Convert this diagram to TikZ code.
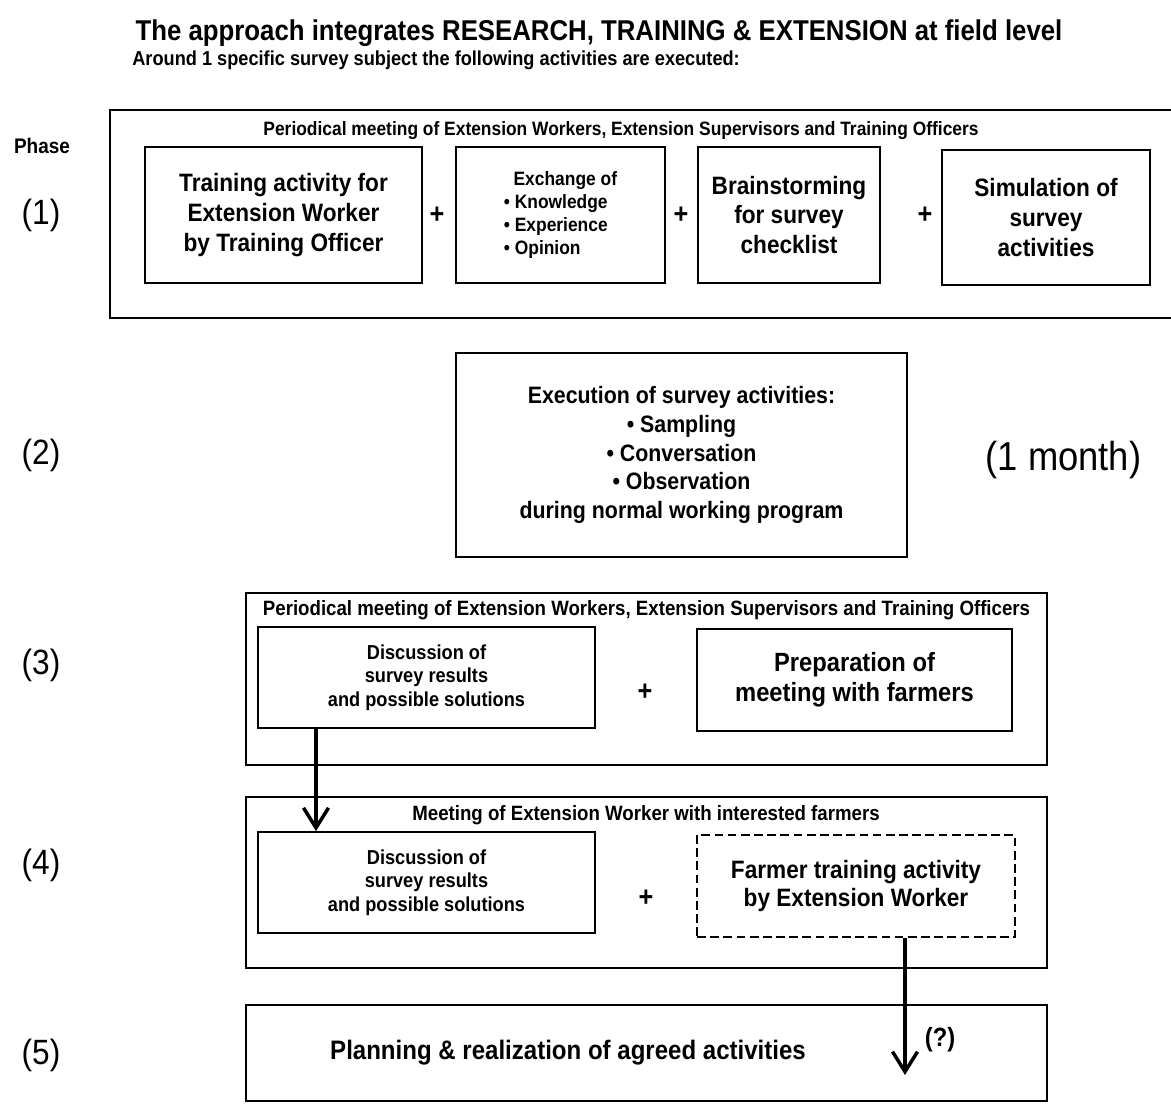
\documentclass[tikz,border=0pt]{standalone}
\usepackage{fontspec}
\setmainfont{Liberation Sans}[FakeStretch=0.9]
\usetikzlibrary{arrows.meta}

\tikzset{
  box/.style={draw,line width=1pt,align=center,inner sep=0pt},
  frame/.style={draw,line width=1pt,inner sep=0pt},
  hdr/.style={inner sep=0pt,font=\fontsize{11}{13}\selectfont\bfseries},
  big/.style={font=\fontsize{14.3}{17}\selectfont\bfseries},
  small/.style={font=\fontsize{11.5}{13.3}\selectfont\bfseries},
  plus/.style={font=\fontsize{16}{16}\selectfont\bfseries},
  phase/.style={font=\fontsize{20}{24}\selectfont},
  arr/.style={line width=1.8pt,-{Straight Barb[length=4mm,width=5mm,line width=2pt]}}
}

\begin{document}
\begin{tikzpicture}
\clip (0,0) rectangle (23.42,-22.08);
% heading
\node[font=\fontsize{16.3}{19}\selectfont\bfseries] (title) at (11.98,-0.66) {The approach integrates RESEARCH, TRAINING \& EXTENSION at field level};
\node[anchor=west,inner sep=0pt,font=\fontsize{11.5}{13}\selectfont\bfseries] (sub) at (2.64,-1.20) {Around 1 specific survey subject the following activities are executed:};
% phase labels
\node[font=\fontsize{12}{14}\selectfont\bfseries] (phs) at (0.84,-2.92) {Phase};
\node[phase] (p1) at (0.82,-4.30) {(1)};
\node[phase] (p2) at (0.82,-9.10) {(2)};
\node[phase] (p3) at (0.82,-13.30) {(3)};
\node[phase] (p4) at (0.82,-17.30) {(4)};
\node[phase] (p5) at (0.82,-21.10) {(5)};

% phase 1
\node[frame,minimum width=21.6cm,minimum height=4.16cm] (f1) at (13.00,-4.28) {};
\node[hdr] (h1) at (12.42,-2.62) {Periodical meeting of Extension Workers, Extension Supervisors and Training Officers};
\node[box,big,minimum width=5.54cm,minimum height=2.72cm] (b1a) at (5.67,-4.30) {Training activity for\\Extension Worker\\by Training Officer};
\node[plus] (pl1) at (8.74,-4.30) {+};
\node[box,align=left,font=\fontsize{11}{13}\selectfont\bfseries,minimum width=4.18cm,minimum height=2.72cm] (b1b) at (11.21,-4.30) {\ \ Exchange of\\\textbullet\ Knowledge\\\textbullet\ Experience\\\textbullet\ Opinion};
\node[plus] (pl2) at (13.62,-4.30) {+};
\node[box,big,minimum width=3.64cm,minimum height=2.72cm] (b1c) at (15.78,-4.30) {Brainstorming\\for survey\\checklist};
\node[plus] (pl3) at (18.50,-4.30) {+};
\node[box,big,minimum width=4.16cm,minimum height=2.70cm] (b1d) at (20.92,-4.35) {Simulation of\\survey\\activities};

% phase 2
\node[box,font=\fontsize{13.5}{16.4}\selectfont\bfseries,minimum width=9.02cm,minimum height=4.08cm] (b2) at (13.63,-9.10) {Execution of survey activities:\\\textbullet\ Sampling\\\textbullet\ Conversation\\\textbullet\ Observation\\during normal working program};
\node[font=\fontsize{23}{26}\selectfont] (mon) at (21.27,-9.20) {(1 month)};

% phase 3
\node[frame,minimum width=16.02cm,minimum height=3.44cm] (f3) at (12.93,-13.58) {};
\node[hdr,font=\fontsize{11.8}{13}\selectfont\bfseries] (h3) at (12.93,-12.20) {Periodical meeting of Extension Workers, Extension Supervisors and Training Officers};
\node[box,small,minimum width=6.74cm,minimum height=2.02cm] (b3a) at (8.53,-13.55) {Discussion of\\survey results\\and possible solutions};
\node[plus] (pl4) at (12.90,-13.84) {+};
\node[box,font=\fontsize{15}{17}\selectfont\bfseries,minimum width=6.30cm,minimum height=2.04cm] (b3b) at (17.09,-13.60) {Preparation of\\meeting with farmers};

% phase 4
\node[frame,minimum width=16.02cm,minimum height=3.42cm] (f4) at (12.93,-17.65) {};
\node[hdr,font=\fontsize{11.8}{13}\selectfont\bfseries] (h4) at (12.92,-16.30) {Meeting of Extension Worker with interested farmers};
\node[box,small,minimum width=6.74cm,minimum height=2.02cm] (b4a) at (8.53,-17.65) {Discussion of\\survey results\\and possible solutions};
\node[plus] (pl5) at (12.92,-17.96) {+};
\node[box,dash pattern=on 5pt off 2.5pt,font=\fontsize{14.3}{15.5}\selectfont\bfseries,minimum width=6.36cm,minimum height=2.04cm] (b4b) at (17.12,-17.72) {Farmer training activity\\by Extension Worker};

% phase 5
\node[frame,minimum width=16.02cm,minimum height=1.92cm] (b5) at (12.93,-21.06) {};
\node[font=\fontsize{15.2}{17}\selectfont\bfseries] (t5) at (11.36,-21.06) {Planning \& realization of agreed activities};

% arrows
\coordinate (ax1) at (6.32,0);
\coordinate (ax2) at (18.10,0);
\coordinate (q) at (18.10,-21.50);
\draw[arr] (b3a.south -| ax1) -- (b4a.north -| ax1);
\draw[arr] (b4b.south -| ax2) -- (q);
\node[font=\fontsize{15}{17}\selectfont\bfseries] (qm) at (18.80,-20.80) {(?)};
\end{tikzpicture}
\end{document}
